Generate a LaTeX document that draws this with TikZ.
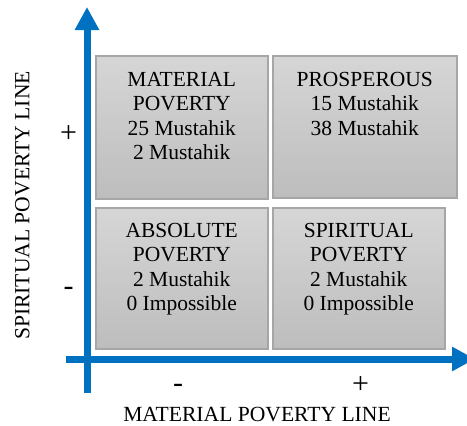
\documentclass[tikz,border=0pt]{standalone}
\usepackage{fontspec}
\setmainfont{Liberation Serif}
\usetikzlibrary{arrows.meta}
\definecolor{axisblue}{HTML}{0070C0}
\definecolor{boxtop}{HTML}{D6D6D6}
\definecolor{boxbot}{HTML}{BDBDBD}
\definecolor{boxline}{HTML}{A6A6A6}
\begin{document}
\begin{tikzpicture}[x=1pt,y=-1pt,
  quad/.style={draw=boxline, line width=1.5pt, top color=boxtop, bottom color=boxbot, inner sep=0pt, anchor=north west},
  qtext/.style={align=center, inner sep=0pt, anchor=base, font=\fontsize{21.5}{24.5}\selectfont},
  axis/.style={draw=axisblue, line width=7pt, -{Triangle[length=23pt,width=23pt,fill=axisblue]}},
  sign/.style={inner sep=0pt, anchor=base, font=\fontsize{30}{30}\selectfont},
  axlabel/.style={inner sep=0pt, anchor=base, font=\fontsize{21.6}{24.5}\selectfont}]
\useasboundingbox (0,0) rectangle (467,426);
\node[quad, minimum width=172pt, minimum height=143pt] (mp) at (95,55) {};
\node[quad, minimum width=184pt, minimum height=142pt] (pr) at (272,55) {};
\node[quad, minimum width=172pt, minimum height=141pt] (ap) at (95,207) {};
\node[quad, minimum width=172pt, minimum height=141pt] (sp) at (272,207) {};
\node[qtext] (mpt) at ([yshift=-104.5pt]mp.north) {MATERIAL\\POVERTY\\25 Mustahik\\2 Mustahik};
\node[qtext] (prt) at ([yshift=-80pt]pr.north) {PROSPEROUS\\15 Mustahik\\38 Mustahik};
\node[qtext] (apt) at ([yshift=-103.5pt]ap.north) {ABSOLUTE\\POVERTY\\2 Mustahik\\0 Impossible};
\node[qtext] (spt) at ([yshift=-103.5pt]sp.north) {SPIRITUAL\\POVERTY\\2 Mustahik\\0 Impossible};
\coordinate (vb) at (87,393);
\coordinate (vt) at (87,7);
\draw[axis] (vb) -- (vt);
\coordinate (hl) at (66,359);
\coordinate (hr) at (475,359);
\draw[axis] (hl) -- (hr);
\node[sign] (yp) at (68.5,142.6) {+};
\node[sign] (ym) at (68.5,295) {-};
\node[sign] (xm) at (178,392) {-};
\node[sign] (xp) at (360.5,393.6) {+};
\node[axlabel] (xl) at (257,421) {MATERIAL POVERTY LINE};
\node[axlabel, rotate=90] (yl) at (29.5,205.5) {SPIRITUAL POVERTY LINE};
\end{tikzpicture}
\end{document}
